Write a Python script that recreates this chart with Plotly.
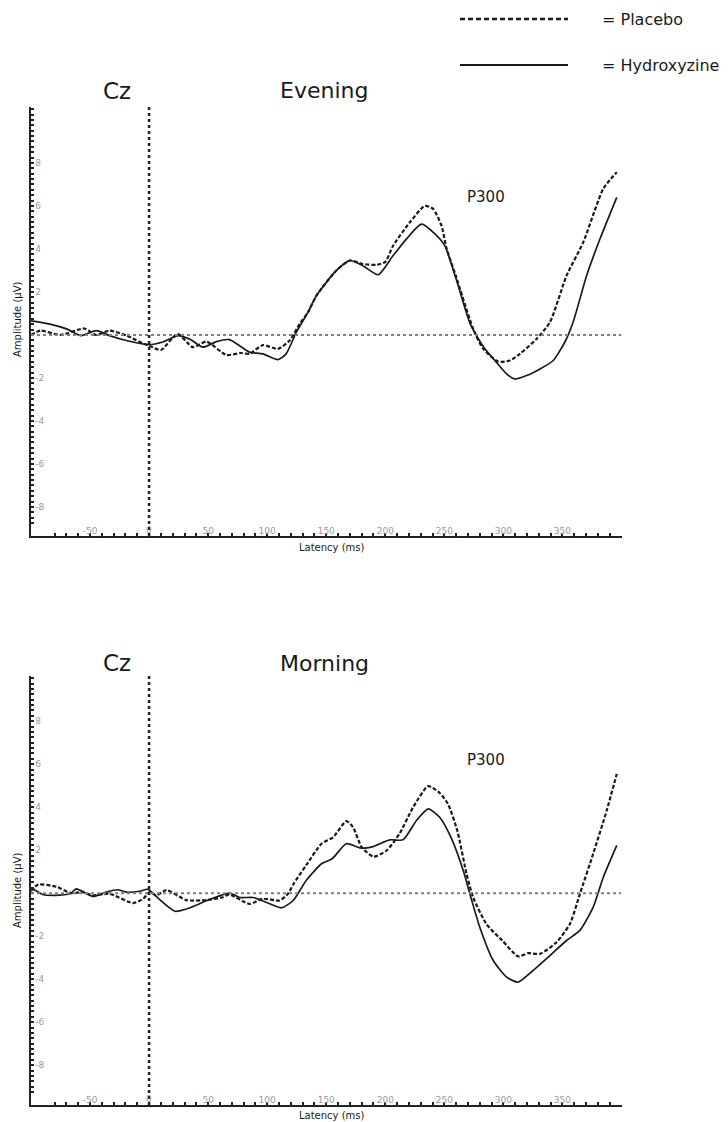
import plotly.graph_objects as go

# ---------------- data ----------------
# Evening, Hydroxyzine (solid)
EVE_HYD_T = [-100, -84, -70, -57.5, -44.7, -33.5, -19.3, -1, 11.7, 24.4, 34.3, 45.6, 57, 68, 76.7, 85,
             96.4, 109, 116, 124.7, 134.6, 141.7, 158.6, 170, 181, 194, 206.6, 218, 230.7, 242, 250.4,
             260, 272, 283, 294, 302.7, 309.7, 319.7, 331, 342, 352, 359, 370.5, 381.8, 396]
EVE_HYD_V = [0.65, 0.5, 0.28, -0.03, 0.2, -0.03, -0.26, -0.45, -0.33, -0.03, -0.19, -0.57, -0.31, -0.22, -0.5, -0.8,
             -0.88, -1.15, -0.88, 0.13, 1.06, 1.83, 3.0, 3.46, 3.22, 2.8, 3.69, 4.47, 5.15, 4.7, 4.15,
             2.6, 0.5, -0.55, -1.27, -1.81, -2.05, -1.89, -1.58, -1.2, -0.34, 0.59, 2.76, 4.47, 6.4]

# Evening, Placebo (dashed)
EVE_PLA_T = [-100, -92, -75, -55, -45, -33.5, -19, -5, 0, 10, 24, 37, 48.5, 65.4, 78, 85, 96.4, 109, 119,
             127.5, 134.6, 141.7, 158.6, 170, 181, 192.5, 200, 206.6, 220.8, 233.5, 240.5, 247.6, 252, 260,
             274.4, 283, 295.6, 305, 314, 328, 339.4, 353.5, 367.6, 384.6, 396]
EVE_PLA_V = [0.0, 0.2, 0.0, 0.3, 0.0, 0.2, -0.03, -0.4, -0.5, -0.7, 0.05, -0.57, -0.31, -0.93, -0.84, -0.88, -0.47, -0.65, -0.26,
             0.51, 1.06, 1.83, 3.0, 3.46, 3.3, 3.26, 3.4, 4.15, 5.24, 6.0, 5.86, 5.08, 4.0, 2.7,
             0.28, -0.65, -1.24, -1.2, -0.88, -0.19, 0.59, 2.76, 4.31, 6.8, 7.57]

# Morning, Hydroxyzine (solid)
MOR_HYD_T = [-100, -90, -80, -67, -61.7, -47.6, -36.3, -26.4, -19.3, -8, -1, 9, 22, 36, 50, 68, 76.7, 88,
             99, 112, 122, 133, 146, 155, 167, 178.4, 188, 203.8, 215, 226.4, 236.3, 246, 256, 266,
             273, 280, 291.4, 302.7, 312.5, 325, 339.4, 353.5, 364.8, 376, 384.6, 396]
MOR_HYD_V = [0.25, -0.06, -0.1, -0.03, 0.2, -0.15, 0.05, 0.16, 0.05, 0.09, 0.18, -0.3, -0.84, -0.65, -0.32, 0.0, -0.2, -0.2,
             -0.42, -0.68, -0.34, 0.59, 1.37, 1.6, 2.3, 2.11, 2.14, 2.48, 2.48, 3.38, 3.92, 3.53, 2.55, 1.05,
             -0.3, -1.58, -3.13, -3.9, -4.14, -3.6, -2.9, -2.2, -1.73, -0.65, 0.74, 2.22]

# Morning, Placebo (dashed)
MOR_PLA_T = [-100, -94, -78.6, -66, -56, -47.6, -33.5, -13.7, -5, 0.4, 6, 14.6, 31.5, 48.5, 62.5, 68, 85,
             96.4, 110.6, 117.6, 122, 133, 146, 155.8, 167, 172.7, 180, 190, 201, 212, 223.6, 236.3, 246,
             253, 261, 268.8, 274.4, 285.8, 299, 312.5, 321, 331, 345, 356.4, 364.8, 376, 387.5, 396]
MOR_PLA_V = [0.1, 0.4, 0.3, 0.0, 0.05, -0.1, -0.03, -0.46, -0.26, 0.05, -0.1, 0.14, -0.32, -0.32, -0.19, -0.06, -0.5,
             -0.26, -0.34, -0.03, 0.4, 1.3, 2.3, 2.6, 3.35, 3.07, 2.14, 1.7, 1.98, 2.76, 4.0, 4.98, 4.66,
             4.16, 2.9, 0.9, -0.2, -1.45, -2.2, -2.94, -2.79, -2.82, -2.28, -1.42, -0.03, 1.83, 3.85, 5.55]

X_TICKS = [-50, 0, 50, 100, 150, 200, 250, 300, 350]
Y_TICKS = [-8, -6, -4, -2, 2, 4, 6, 8]
X_RANGE = [-100, 400]
Y_RANGE_TOP = [-9.35, 10.6]
Y_RANGE_BOT = [-9.85, 10.1]

PANEL_TITLES = ["Evening", "Morning"]
ELECTRODE = "Cz"
SERIES_NAMES = ["Placebo", "Hydroxyzine"]

# ---------------- figure ----------------
W, H = 728, 1122
FONT = "DejaVu Sans"
TICK_FONT = dict(family=FONT, size=9, color="#9a9a9a")


def px(x):
    return x / W


def py(y):
    return 1 - y / H


fig = go.Figure()

panels = [
    (EVE_PLA_T, EVE_PLA_V, EVE_HYD_T, EVE_HYD_V, "x", "y"),
    (MOR_PLA_T, MOR_PLA_V, MOR_HYD_T, MOR_HYD_V, "x2", "y2"),
]
for pt, pv, ht, hv, xa, ya in panels:
    fig.add_trace(go.Scatter(x=ht, y=hv, mode="lines", name=SERIES_NAMES[1], xaxis=xa, yaxis=ya,
                             line=dict(color="#1a1a1a", width=1.7, shape="spline", smoothing=0.6)))
    fig.add_trace(go.Scatter(x=pt, y=pv, mode="lines", name=SERIES_NAMES[0], xaxis=xa, yaxis=ya,
                             line=dict(color="#1a1a1a", width=2.2, dash="4px,2px", shape="spline", smoothing=0.6)))

xdom = [px(31), px(621.5)]
top_dom = [py(536), py(107)]
bot_dom = [py(1105), py(676)]

minor_x = dict(tickmode="array", tickvals=list(range(-100, 401, 10)), ticks="inside",
               ticklen=3, tickwidth=1.5, tickcolor="#222")
minor_y = dict(tickmode="array", tickvals=[v / 4 for v in range(-40, 44)], ticks="inside",
               ticklen=3, tickwidth=1.5, tickcolor="#222")

axis_x_ticks = [v for v in X_TICKS if v != 0]  # the "0" label is drawn separately (plotly hides it)

xax = dict(range=X_RANGE, domain=xdom, showline=True, linecolor="#222", linewidth=2,
           ticks="inside", ticklen=3, tickwidth=1.5, tickcolor="#222",
           tickmode="array", tickvals=axis_x_ticks, ticktext=[str(v) for v in axis_x_ticks],
           ticklabelposition="inside", ticklabelstandoff=-4, tickfont=TICK_FONT,
           showgrid=False, zeroline=False, minor=minor_x, fixedrange=True)
yax = dict(showline=True, linecolor="#222", linewidth=2,
           ticks="inside", ticklen=3, tickwidth=1.5, tickcolor="#222",
           tickmode="array", tickvals=Y_TICKS, ticktext=[str(v) for v in Y_TICKS],
           ticklabelposition="inside", tickfont=TICK_FONT,
           showgrid=False, zeroline=False, minor=minor_y, fixedrange=True)

fig.update_layout(
    width=W, height=H, margin=dict(l=0, r=0, t=0, b=0),
    paper_bgcolor="white", plot_bgcolor="white", showlegend=False,
    xaxis=dict(xax, anchor="y"),
    yaxis=dict(yax, anchor="x", domain=top_dom, range=Y_RANGE_TOP),
    xaxis2=dict(xax, anchor="y2"),
    yaxis2=dict(yax, anchor="x2", domain=bot_dom, range=Y_RANGE_BOT),
)

shapes = []
for xr, yr in [("x", "y"), ("x2", "y2")]:
    # zero baseline (gray dotted)
    shapes.append(dict(type="line", xref=xr, yref=yr, x0=X_RANGE[0], x1=X_RANGE[1], y0=0, y1=0,
                       line=dict(color="#808080", width=2, dash="dot")))
    # stimulus onset (black dotted)
    shapes.append(dict(type="line", xref=xr, yref=yr + " domain", x0=0, x1=0, y0=0, y1=1,
                       line=dict(color="#222", width=2.5, dash="dot")))
# legend lines
shapes.append(dict(type="line", xref="paper", yref="paper", x0=px(460), x1=px(568), y0=py(19), y1=py(19),
                   line=dict(color="#1a1a1a", width=2.5, dash="5px,3px")))
shapes.append(dict(type="line", xref="paper", yref="paper", x0=px(460), x1=px(568), y0=py(65), y1=py(65),
                   line=dict(color="#1a1a1a", width=2)))
fig.update_layout(shapes=shapes)

ann = []


def text(x, y, s, size, anchor="center", color="#1a1a1a", angle=0):
    ann.append(dict(x=px(x), y=py(y), xref="paper", yref="paper", text=s, showarrow=False,
                    xanchor=anchor, yanchor="middle", textangle=angle,
                    font=dict(family=FONT, size=size, color=color)))


text(600, 19, "= " + SERIES_NAMES[0], 16, anchor="left")
text(600, 65, "= " + SERIES_NAMES[1], 16, anchor="left")

for (cz_y, title, p300_y, amp_y, lat_y) in [(91, PANEL_TITLES[0], 197, 319, 547),
                                           (663, PANEL_TITLES[1], 760, 890, 1115)]:
    text(117, cz_y, ELECTRODE, 23)
    text(324, cz_y, title, 22)
    text(486, p300_y, "P300", 15)
    text(17, amp_y, "Amplitude (µV)", 10, angle=-90)
    text(332, lat_y, "Latency (ms)", 10)

# "0" x tick label on each panel, placed on the axis scale
for xr, yr in [("x", "y"), ("x2", "y2")]:
    for v in X_TICKS:
        if v == 0:
            ann.append(dict(x=v, y=0, xref=xr, yref=yr + " domain", text=str(v), showarrow=False,
                            xanchor="center", yanchor="bottom", yshift=-1, font=TICK_FONT,
                            bgcolor="rgba(0,0,0,0)"))

fig.update_layout(annotations=ann)

fig.write_html(
    "out.html",
    config={"displayModeBar": False},
    post_script="document.body.style.margin='0';document.body.style.padding='0';"
                "document.body.style.overflow='hidden';"
                "document.documentElement.style.overflow='hidden';",
)
